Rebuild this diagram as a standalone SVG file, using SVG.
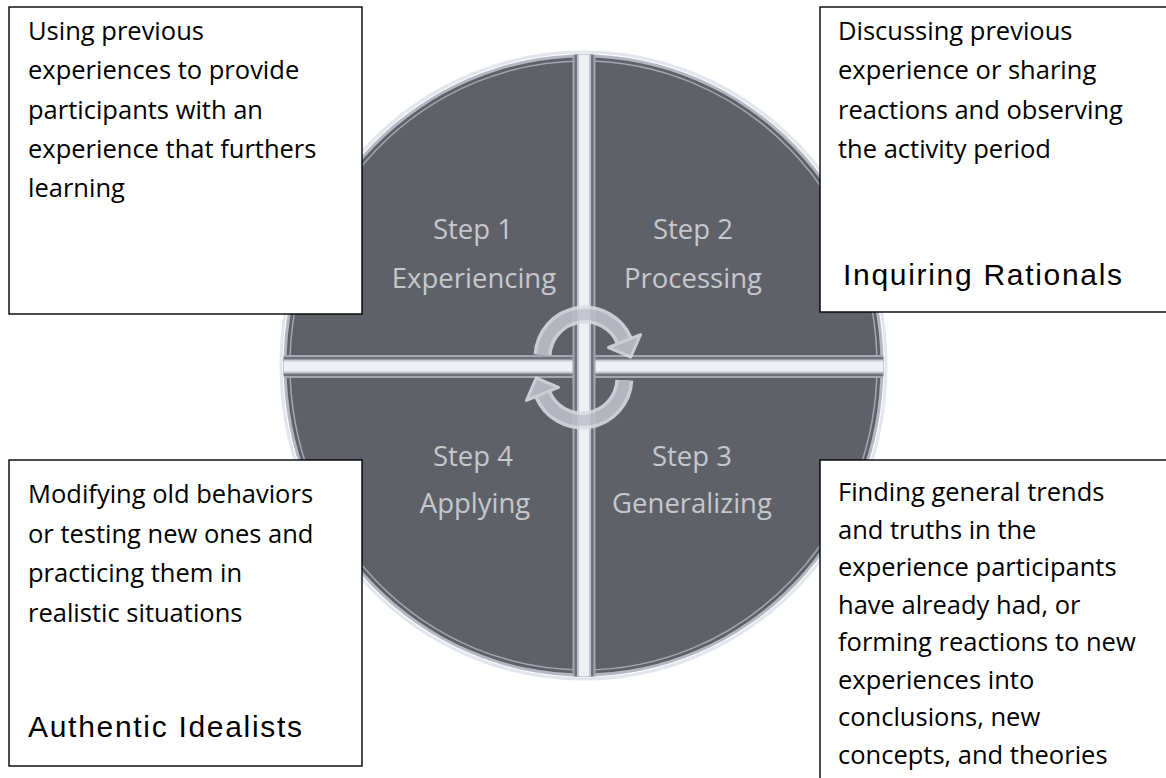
<svg xmlns="http://www.w3.org/2000/svg" width="1166" height="778" viewBox="0 0 1166 778">
<style>
.box{fill:#fff;stroke:#000;stroke-width:1.4}
.body{font-family:"Open Sans","Noto Sans",sans-serif;font-size:25.5px;fill:#000}
.type{font-family:"Liberation Sans",Arial,sans-serif;font-size:30px;letter-spacing:1.7px;fill:#000}
.step{font-family:"Open Sans","Noto Sans",sans-serif;font-size:27.5px;fill:#c6c8ce;text-anchor:middle}
.arcO{fill:none;stroke:#dadde3;stroke-width:18}
.arcI{fill:none;stroke:#bfc2ca;stroke-width:11}
.head{fill:#bfc2ca;stroke:#dadde3;stroke-width:3;stroke-linejoin:round}
</style>
<defs>
<clipPath id="disc"><ellipse cx="583.5" cy="365.5" rx="300" ry="311"/></clipPath>
</defs>
<rect width="1166" height="778" fill="#fff"/>
<g id="wheel">
<ellipse cx="583.5" cy="365.5" rx="302.5" ry="313.5" fill="none" stroke="#e3e6ec" stroke-width="3"/>
<ellipse cx="583.5" cy="365.5" rx="300" ry="311" fill="#b4b8c2"/>
<ellipse cx="583.5" cy="365.5" rx="297" ry="308" fill="#5e6168"/>
<ellipse cx="583.5" cy="365.5" rx="293.5" ry="304.5" fill="none" stroke="#a3a7b1" stroke-width="1.5"/>
<g clip-path="url(#disc)">
<rect x="280" y="355" width="610" height="23" fill="#a3a7b1"/>
<rect x="280" y="357" width="610" height="19" fill="#6f727a"/>
<rect x="280" y="359.5" width="610" height="14" fill="#c3c7d1"/>
<rect x="280" y="361.5" width="610" height="10" fill="#eef0f6"/>
<rect x="572.5" y="50" width="23" height="640" fill="#a3a7b1"/>
<rect x="574.5" y="50" width="19" height="640" fill="#6f727a"/>
<rect x="577" y="50" width="14" height="640" fill="#c3c7d1"/>
<rect x="579" y="50" width="10" height="640" fill="#eef0f6"/>
</g>
</g>
<g id="step1"><text class="step" x="473" y="239">Step 1</text><text class="step" x="474" y="288">Experiencing</text></g>
<g id="step2"><text class="step" x="693" y="239">Step 2</text><text class="step" x="693" y="288">Processing</text></g>
<g id="step3"><text class="step" x="692" y="466">Step 3</text><text class="step" x="692" y="513">Generalizing</text></g>
<g id="step4"><text class="step" x="473" y="466">Step 4</text><text class="step" x="475" y="513">Applying</text></g>
<g id="connectors" opacity="0.88">
<path class="arcO" d="M 542.6 354.8 A 42.5 42.5 0 0 1 624.4 341.1"/>
<path class="arcI" d="M 542.6 354.8 A 42.5 42.5 0 0 1 624.4 341.1"/>
<polygon class="head" points="608.5,347.5 640.5,334.6 630.8,357"/>
<path class="arcO" d="M 624.4 380.2 A 42.5 42.5 0 0 1 542.6 393.9"/>
<path class="arcI" d="M 624.4 380.2 A 42.5 42.5 0 0 1 542.6 393.9"/>
<polygon class="head" points="558.5,387.4 526.5,400.4 536.2,378"/>
</g>
<g id="box-experiencing">
<rect class="box" x="9" y="7" width="353" height="307"/>
<text class="body" x="28"><tspan x="28" y="40">Using previous</tspan><tspan x="28" y="79">experiences to provide</tspan><tspan x="28" y="118.5">participants with an</tspan><tspan x="28" y="158">experience that furthers</tspan><tspan x="28" y="197">learning</tspan></text>
</g>
<g id="box-processing">
<rect class="box" x="820" y="7" width="360" height="305"/>
<text class="body"><tspan x="838" y="40">Discussing previous</tspan><tspan x="838" y="79">experience or sharing</tspan><tspan x="838" y="118.5">reactions and observing</tspan><tspan x="838" y="158">the activity period</tspan></text>
<text class="type" x="843" y="285">Inquiring Rationals</text>
</g>
<g id="box-applying">
<rect class="box" x="9" y="460" width="353" height="306"/>
<text class="body"><tspan x="28" y="503">Modifying old behaviors</tspan><tspan x="28" y="542.5">or testing new ones and</tspan><tspan x="28" y="582">practicing them in</tspan><tspan x="28" y="621.5">realistic situations</tspan></text>
<text class="type" x="28" y="737">Authentic Idealists</text>
</g>
<g id="box-generalizing">
<rect class="box" x="820" y="460" width="360" height="330"/>
<text class="body"><tspan x="838" y="501">Finding general trends</tspan><tspan x="838" y="538.5">and truths in the</tspan><tspan x="838" y="576">experience participants</tspan><tspan x="838" y="613.5">have already had, or</tspan><tspan x="838" y="651">forming reactions to new</tspan><tspan x="838" y="688.5">experiences into</tspan><tspan x="838" y="726">conclusions, new</tspan><tspan x="838" y="763.5">concepts, and theories</tspan></text>
</g>
</svg>
